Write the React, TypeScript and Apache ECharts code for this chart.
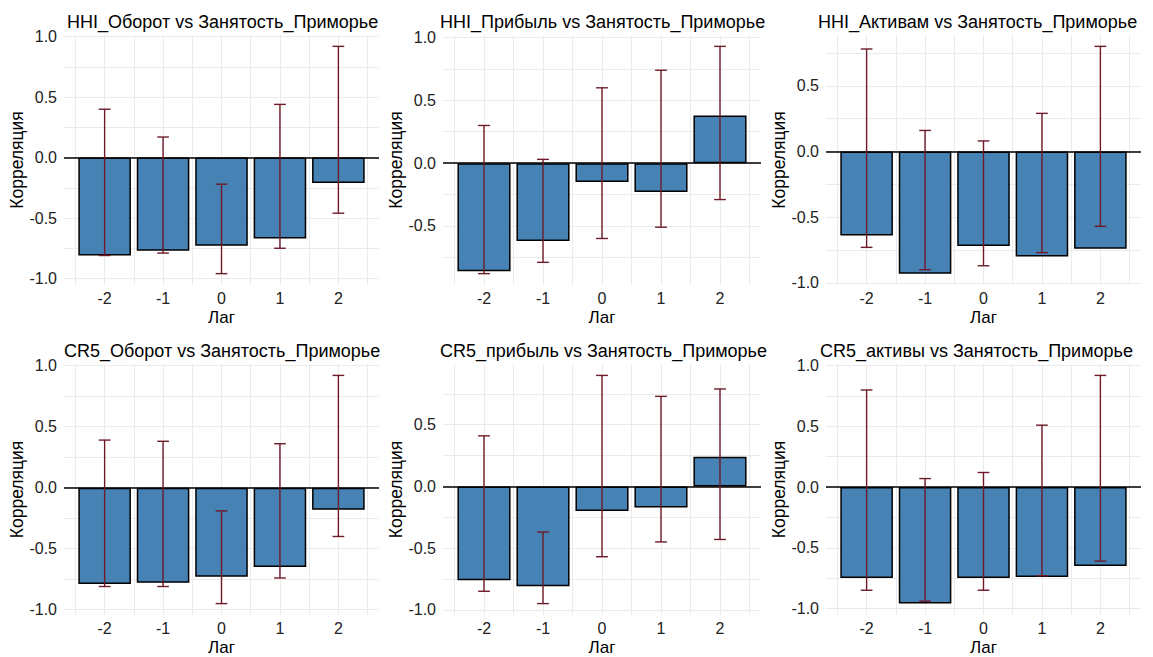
import React, { useEffect, useRef } from "react";
import * as echarts from "echarts";

const lags = [-2, -1, 0, 1, 2];
const xTickLabels = ["-2", "-1", "0", "1", "2"];
const yTickValues = [-1, -0.5, 0, 0.5, 1];

const titles = [
  "HHI_Оборот vs Занятость_Приморье",
  "HHI_Прибыль vs Занятость_Приморье",
  "HHI_Активам vs Занятость_Приморье",
  "CR5_Оборот vs Занятость_Приморье",
  "CR5_прибыль vs Занятость_Приморье",
  "CR5_активы vs Занятость_Приморье",
];

// correlation, lower CI, upper CI per panel
const corrHhiTurnover = [-0.81, -0.77, -0.73, -0.67, -0.21];
const lowHhiTurnover = [-0.81, -0.79, -0.96, -0.75, -0.46];
const upHhiTurnover = [0.4, 0.17, -0.22, 0.44, 0.92];

const corrHhiProfit = [-0.86, -0.62, -0.15, -0.23, 0.38];
const lowHhiProfit = [-0.88, -0.79, -0.6, -0.51, -0.29];
const upHhiProfit = [0.3, 0.03, 0.6, 0.74, 0.93];

const corrHhiAssets = [-0.64, -0.93, -0.72, -0.8, -0.74];
const lowHhiAssets = [-0.73, -0.9, -0.87, -0.77, -0.57];
const upHhiAssets = [0.78, 0.16, 0.08, 0.29, 0.8];

const corrCr5Turnover = [-0.79, -0.78, -0.73, -0.65, -0.18];
const lowCr5Turnover = [-0.81, -0.81, -0.95, -0.74, -0.4];
const upCr5Turnover = [0.39, 0.38, -0.19, 0.36, 0.92];

const corrCr5Profit = [-0.76, -0.81, -0.2, -0.17, 0.24];
const lowCr5Profit = [-0.85, -0.95, -0.57, -0.45, -0.43];
const upCr5Profit = [0.41, -0.37, 0.9, 0.73, 0.79];

const corrCr5Assets = [-0.75, -0.96, -0.75, -0.74, -0.65];
const lowCr5Assets = [-0.85, -0.94, -0.85, -0.73, -0.61];
const upCr5Assets = [0.8, 0.07, 0.12, 0.51, 0.92];

const panels = [
  { corr: corrHhiTurnover, low: lowHhiTurnover, up: upHhiTurnover },
  { corr: corrHhiProfit, low: lowHhiProfit, up: upHhiProfit },
  { corr: corrHhiAssets, low: lowHhiAssets, up: upHhiAssets },
  { corr: corrCr5Turnover, low: lowCr5Turnover, up: upCr5Turnover },
  { corr: corrCr5Profit, low: lowCr5Profit, up: upCr5Profit },
  { corr: corrCr5Assets, low: lowCr5Assets, up: upCr5Assets },
];

const FONT = "'Liberation Sans', Arial, sans-serif";
const colLeft = [64, 443, 826];
const colWidth = [315, 318, 315];
const rowTop = [35, 364];
const rowHeight = [250, 251];
const titleLeft = [62, 435, 813, 59, 435, 815];
const titleTop = [8, 337];

const BAR = "#4682B4";
const ERR = "#6e1a28";
const GRID = "#ebebeb";

function buildOption() {
  const grid: any[] = [];
  const xAxis: any[] = [];
  const yAxis: any[] = [];
  const series: any[] = [];
  const title: any[] = [];
  const xMinorTicks: number[] = [];
  for (let v = -2.5; v <= 2.5001; v += 0.5) xMinorTicks.push(Math.round(v * 10) / 10);
  const xPad = 0.05 * (lags[lags.length - 1] + 0.45 - (lags[0] - 0.45));
  const xMin = lags[0] - 0.45 - xPad;
  const xMax = lags[lags.length - 1] + 0.45 + xPad;

  panels.forEach((p, i) => {
    const r = Math.floor(i / 3);
    const c = i % 3;
    grid.push({ left: colLeft[c], top: rowTop[r], width: colWidth[c], height: rowHeight[r], containLabel: false });
    title.push({
      text: titles[i],
      left: titleLeft[i],
      top: titleTop[r],
      textStyle: { fontFamily: FONT, fontSize: 18, fontWeight: "normal", color: "#000" },
    });
    const lo = Math.min(0, ...p.low, ...p.corr);
    const hi = Math.max(0, ...p.up, ...p.corr);
    const pad = 0.05 * (hi - lo);
    const yMin = lo - pad;
    const yMax = hi + pad;
    const yMinor: number[] = [];
    for (let v = -1; v <= 1.0001; v += 0.25) {
      if (v >= yMin && v <= yMax) yMinor.push(Math.round(v * 100) / 100);
    }
    xAxis.push({
      type: "value",
      gridIndex: i,
      min: xMin,
      max: xMax,
      axisLine: { show: false },
      axisTick: { show: false, customValues: xMinorTicks },
      axisLabel: {
        customValues: lags,
        formatter: (v: number) => xTickLabels[lags.indexOf(v)] ?? String(v),
        fontFamily: FONT,
        fontSize: 16,
        color: "#222",
        margin: 5,
      },
      splitLine: { show: true, lineStyle: { color: GRID, width: 1 } },
      name: "Лаг",
      nameLocation: "middle",
      nameGap: 24,
      nameTextStyle: { fontFamily: FONT, fontSize: 17, color: "#000" },
    });
    yAxis.push({
      type: "value",
      gridIndex: i,
      min: yMin,
      max: yMax,
      axisLine: { show: false },
      axisTick: { show: false, customValues: yMinor },
      axisLabel: {
        customValues: yTickValues.filter((v) => v >= yMin && v <= yMax),
        formatter: (v: number) => v.toFixed(1),
        fontFamily: FONT,
        fontSize: 16,
        color: "#222",
        margin: 7,
      },
      splitLine: { show: true, lineStyle: { color: GRID, width: 1 } },
      name: "Корреляция",
      nameLocation: "middle",
      nameGap: 38,
      nameTextStyle: { fontFamily: FONT, fontSize: 17.5, color: "#000" },
    });
    series.push({
      type: "bar",
      xAxisIndex: i,
      yAxisIndex: i,
      data: lags.map((l, k) => [l, p.corr[k]]),
      barWidth: "90%",
      itemStyle: { color: BAR, borderColor: "#000", borderWidth: 1.5 },
      z: 2,
      markLine: {
        silent: true,
        symbol: "none",
        label: { show: false },
        lineStyle: { color: "#000", width: 1.5, type: "solid" },
        data: [{ yAxis: 0 }],
        z: 3,
      },
    });
    series.push({
      type: "custom",
      xAxisIndex: i,
      yAxisIndex: i,
      data: lags.map((l, k) => [l, p.low[k], p.up[k]]),
      z: 4,
      renderItem: (params: any, api: any) => {
        const x = api.value(0);
        const pLow = api.coord([x, api.value(1)]);
        const pUp = api.coord([x, api.value(2)]);
        const half = api.size([0.1, 0])[0];
        const style = { stroke: ERR, lineWidth: 1.4 };
        return {
          type: "group",
          children: [
            { type: "line", shape: { x1: pLow[0], y1: pLow[1], x2: pUp[0], y2: pUp[1] }, style },
            { type: "line", shape: { x1: pUp[0] - half, y1: pUp[1], x2: pUp[0] + half, y2: pUp[1] }, style },
            { type: "line", shape: { x1: pLow[0] - half, y1: pLow[1], x2: pLow[0] + half, y2: pLow[1] }, style },
          ],
        };
      },
    });
  });

  return {
    animation: false,
    backgroundColor: "#fff",
    title,
    grid,
    xAxis,
    yAxis,
    series,
  };
}

export default function App() {
  const ref = useRef<HTMLDivElement>(null);
  useEffect(() => {
    document.body.style.margin = "0";
    if (!ref.current) return;
    const chart = echarts.init(ref.current, undefined, { renderer: "svg" });
    chart.setOption(buildOption() as any);
    return () => chart.dispose();
  }, []);
  return <div ref={ref} style={{ width: 1153, height: 657 }} />;
}
